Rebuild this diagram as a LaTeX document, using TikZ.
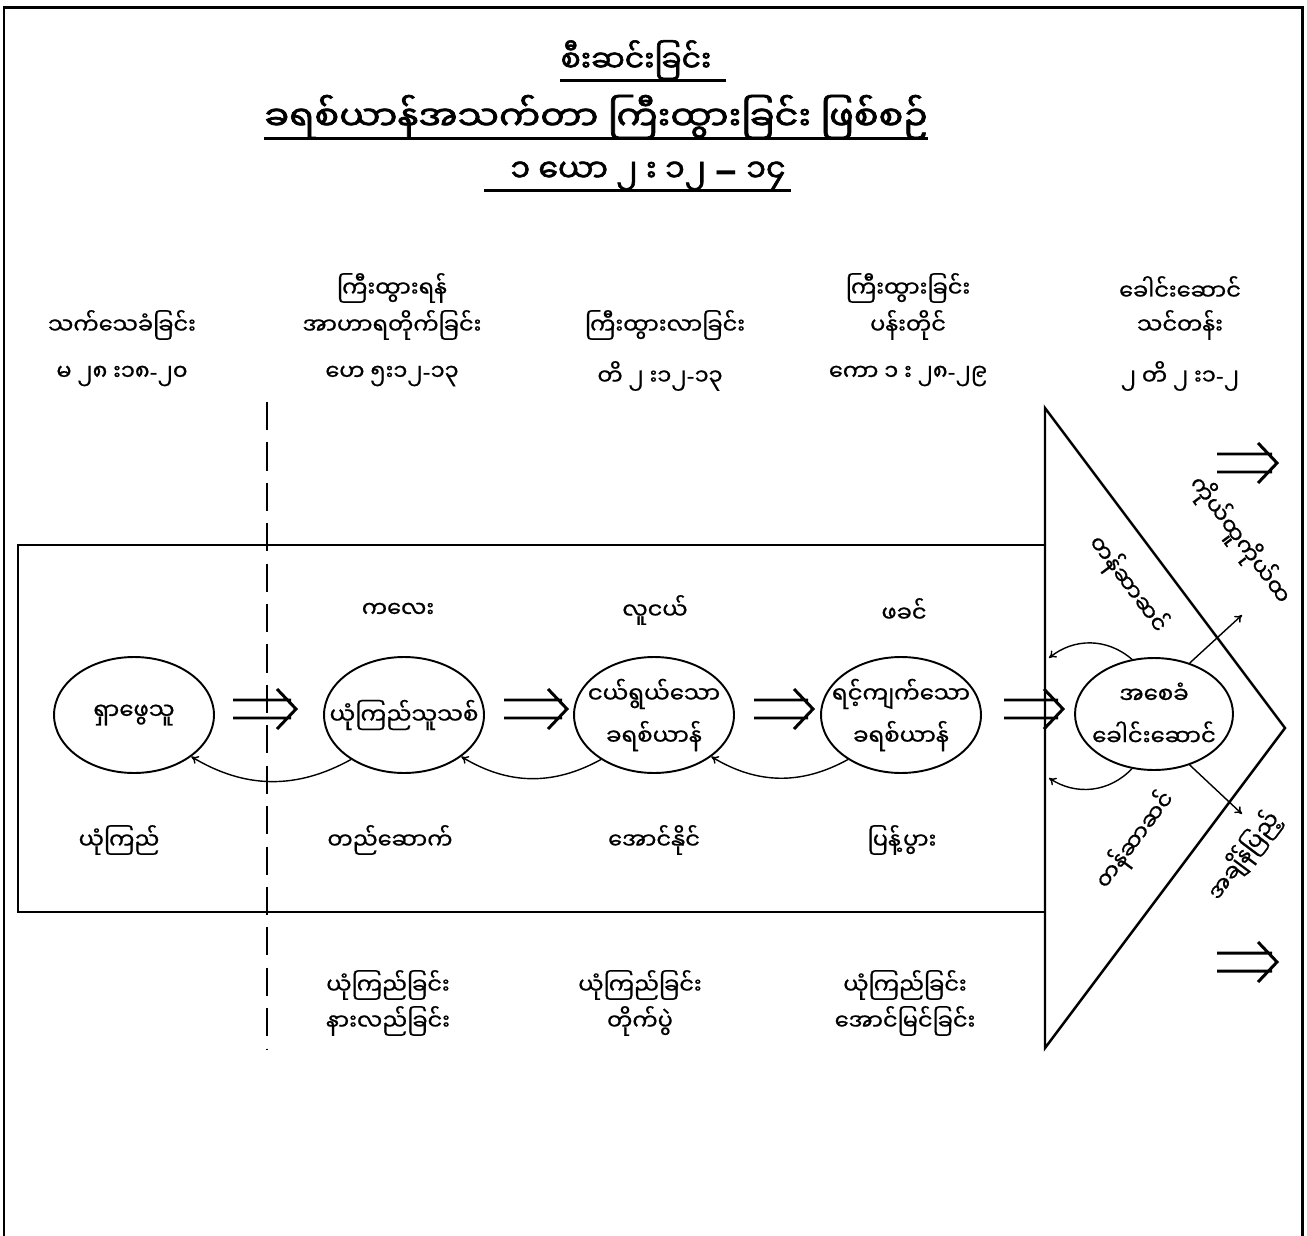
\documentclass[tikz,border=0pt]{standalone}
\usepackage{fontspec}
\usetikzlibrary{calc,shapes.geometric,arrows.meta}
\newfontfamily\mmfont[Script=Myanmar,FakeBold=0.8]{Noto Sans Myanmar UI}
\newfontfamily\mmbold[Script=Myanmar,FakeBold=2]{Noto Sans Myanmar UI}
\newfontfamily\dfont{DejaVu Sans}
% zero-width box: the ellipse keeps its own size, the text may touch it
\newcommand\zb[1]{\makebox[0pt]{#1}}
% a visarga standing after a gap
\newcommand\gv{^^^^00a0း}

\tikzset{
  txt/.style={font=\mmfont\fontsize{12.8}{17}\selectfont, inner sep=0pt, align=center},
  ttl/.style={font=\mmbold\fontsize{17}{21}\selectfont, inner sep=0pt},
  uline/.style={line width=1.6pt},
  stage/.style={ellipse, draw, line width=1.1pt, inner sep=0pt, align=center,
     font=\mmfont\fontsize{13}{24}\selectfont, minimum width=3.2cm, minimum height=2.32cm},
  frame/.style={line width=1.7pt},
  box/.style={line width=1.4pt},
  divider/.style={line width=1.1pt, dash pattern=on 16pt off 7pt},
  dblarrow/.style={line width=1.7pt, line join=miter, to path={
     ($(\tikztostart)+(0,9)$) -- ($(\tikztotarget)+(-5,9)$)
     ($(\tikztostart)+(0,-9)$) -- ($(\tikztotarget)+(-5,-9)$)
     ($(\tikztotarget)+(-19,20)$) -- (\tikztotarget) -- ($(\tikztotarget)+(-19,-20)$)}},
  back/.style={line width=0.8pt, -{To[length=4pt,width=5pt]}},
}

\begin{document}
\begin{tikzpicture}[x=0.02cm,y=0.02cm]
\useasboundingbox (0,0) rectangle (1307,-1236);

% outer frame, open at the bottom
\draw[frame] (4,-1240) -- (4,-8) -- (1302,-8) -- (1302,-1240);

% title
\node[ttl] (t1) at (636,-60) {စီးဆင်းခြင်း};
\node[ttl, font=\mmbold\fontsize{19}{23}\selectfont, xscale=1.1] (t2) at (596,-117) {ခရစ်ယာန်အသက်တာ ကြီးထွားခြင်း ဖြစ်စဉ်};
\node[ttl, font=\mmbold\fontsize{18}{22}\selectfont] (t3) at (648,-176) {၁ ယော ၂\gv{} ၁၂ {\dfont\bfseries\scalebox{1.5}[1]{–}} ၁၄};
\draw[uline] ([yshift=-5pt]t1.base west) -- ([yshift=-5pt,xshift=8pt]t1.base east);
\draw[uline] ([yshift=-5pt]t2.base west) -- ([yshift=-5pt]t2.base east);
\draw[uline] ([yshift=-5pt,xshift=-15pt]t3.base west) -- ([yshift=-5pt,xshift=3pt]t3.base east);

% column headings
\node[txt] (h2a) at (392,-288) {ကြီးထွားရန်};
\node[txt] (h4a) at (908,-288) {ကြီးထွားခြင်း};
\node[txt] (h5a) at (1180,-288) {ခေါင်းဆောင်};
\node[txt] (h1b) at (122,-325) {သက်သေခံခြင်း};
\node[txt] (h2b) at (392,-325) {အာဟာရတိုက်ခြင်း};
\node[txt] (h3b) at (665,-325) {ကြီးထွားလာခြင်း};
\node[txt] (h4b) at (908,-325) {ပန်းတိုင်};
\node[txt] (h5b) at (1180,-325) {သင်တန်း};
\node[txt] (h1c) at (122,-376) {မ ၂၈\gv၁၈{\dfont -}၂၀};
\node[txt] (h2c) at (392,-376) {ဟေ ၅း၁၂{\dfont -}၁၃};
\node[txt] (h3c) at (660,-376) {တိ ၂\gv၁၂{\dfont -}၁၃};
\node[txt] (h4c) at (908,-376) {ကော ၁\gv{} ၂၈{\dfont -}၂၉};
\node[txt] (h5c) at (1180,-376) {၂ တိ ၂\gv၁{\dfont -}၂};

% middle band and triangle
\draw[box] (1045,-545) -- (18,-545) -- (18,-912) -- (1045,-912);
\draw[box, line join=miter] (1045,-408) -- (1285,-728) -- (1045,-1048) -- cycle;
\draw[divider] (267,-402) -- (267,-1050);

% stage ellipses
\node[stage] (e1) at (134,-715) {\zb{ရှာဖွေသူ}};
\node[stage] (e2) at (404,-715) {\zb{ယုံကြည်သူသစ်}};
\node[stage] (e3) at (654,-715) {\zb{ငယ်ရွယ်သော}\\\zb{ခရစ်ယာန်}};
\node[stage] (e4) at (901,-715) {\zb{ရင့်ကျက်သော}\\\zb{ခရစ်ယာန်}};
\node[stage, minimum width=3.16cm, minimum height=2.24cm] (e5) at (1154,-714) {\zb{အစေခံ}\\\zb{ခေါင်းဆောင်}};

% labels above and below the stages
\node[txt] (m2) at (398,-610) {ကလေး};
\node[txt] (m3) at (655,-610) {လူငယ်};
\node[txt] (m4) at (904,-610) {ဖခင်};
\node[txt] (n1) at (119,-840) {ယုံကြည်};
\node[txt] (n2) at (390,-840) {တည်ဆောက်};
\node[txt] (n3) at (654,-840) {အောင်နိုင်};
\node[txt] (n4) at (902,-840) {ပြန့်ပွား};

% lower headings
\node[txt] (b2a) at (388,-985) {ယုံကြည်ခြင်း};
\node[txt] (b2b) at (388,-1021) {နားလည်ခြင်း};
\node[txt] (b3a) at (640,-985) {ယုံကြည်ခြင်း};
\node[txt] (b3b) at (640,-1021) {တိုက်ပွဲ};
\node[txt] (b4a) at (905,-985) {ယုံကြည်ခြင်း};
\node[txt] (b4b) at (905,-1021) {အောင်မြင်ခြင်း};

% texts along the triangle
\node[txt, rotate=-53.13] (r1) at (1240,-540) {ကိုယ်ထူကိုယ်ထ};
\node[txt, rotate=-53.13] (r2) at (1128,-584) {တန်ဆာဆင်};
\node[txt, rotate=53.13] (r3) at (1135,-840) {တန်ဆာဆင်};
\node[txt, rotate=53.13] (r4) at (1244,-856) {အချိန်ပြည့်};

% forward double arrows
\coordinate (a1s) at (233,-709);  \coordinate (a1e) at (296,-709);
\coordinate (a2s) at (504,-709);  \coordinate (a2e) at (567,-709);
\coordinate (a3s) at (754,-709);  \coordinate (a3e) at (813,-709);
\coordinate (a4s) at (1004,-709); \coordinate (a4e) at (1063,-709);
\coordinate (a5s) at (1217,-463); \coordinate (a5e) at (1277,-463);
\coordinate (a6s) at (1217,-962); \coordinate (a6e) at (1277,-962);
\draw[dblarrow] (a1s) to (a1e);
\draw[dblarrow] (a2s) to (a2e);
\draw[dblarrow] (a3s) to (a3e);
\draw[dblarrow] (a4s) to (a4e);
\draw[dblarrow] (a5s) to (a5e);
\draw[dblarrow] (a6s) to (a6e);

% backward curved arrows
\draw[back] (e2.220) to[bend left=30] (e1.-36);
\draw[back] (e3.220) to[bend left=30] (e2.-36);
\draw[back] (e4.220) to[bend left=30] (e3.-36);
\coordinate (k1) at (1049,-658);
\coordinate (k2) at (1049,-778);
\draw[back] (e5.112) to[bend right=40] (k1);
\draw[back] (e5.248) to[bend left=40] (k2);

% outgoing diagonal arrows
\coordinate (d1) at (1242,-615);
\coordinate (d2) at (1242,-814);
\draw[back] (e5.55) -- (d1);
\draw[back] (e5.-55) -- (d2);
\end{tikzpicture}
\end{document}
